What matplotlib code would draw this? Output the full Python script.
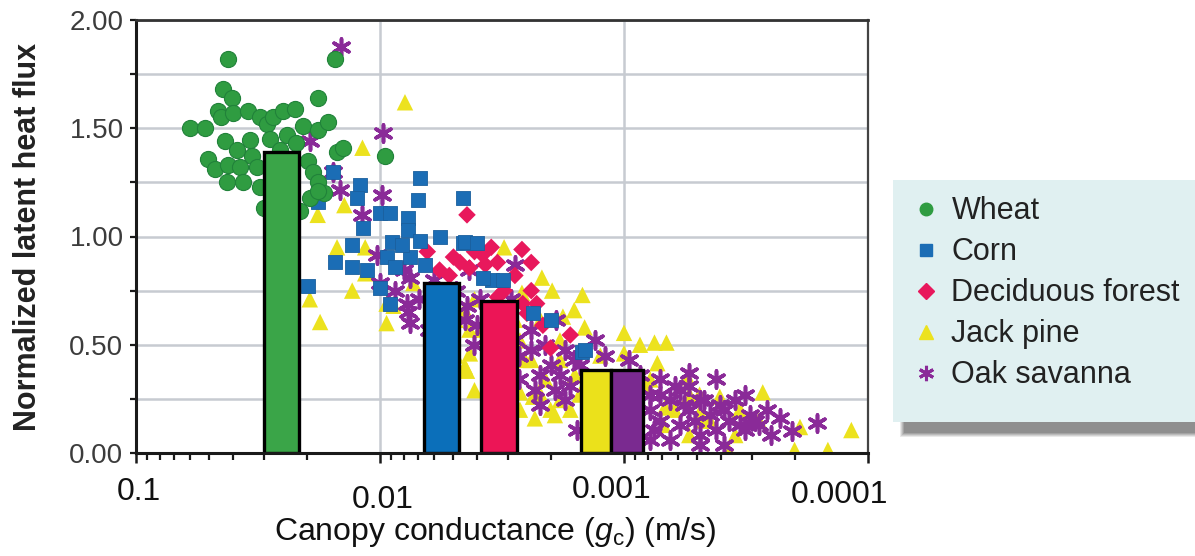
import matplotlib
matplotlib.use("Agg")
import matplotlib.pyplot as plt
import numpy as np
from matplotlib.patches import Rectangle
from matplotlib.ticker import FixedLocator, LogLocator, NullFormatter

# ---------------- data ----------------
series_names = ["Wheat", "Corn", "Deciduous forest", "Jack pine", "Oak savanna"]

wheat_gc = [0.042, 0.0153, 0.044, 0.0405, 0.018, 0.060, 0.052, 0.046, 0.045, 0.040,
            0.0348, 0.031, 0.029, 0.0275, 0.025, 0.0223, 0.0207, 0.018, 0.0163, 0.043,
            0.024, 0.022, 0.0507, 0.0475, 0.042, 0.0375, 0.0335, 0.032, 0.0423, 0.0364,
            0.031, 0.030, 0.0197, 0.0188, 0.018, 0.017, 0.0150, 0.0142, 0.00954, 0.0194,
            0.0213, 0.018, 0.0283, 0.0257, 0.0341, 0.0386]
wheat_le = [1.82, 1.82, 1.68, 1.64, 1.64, 1.50, 1.50, 1.58, 1.55, 1.57,
            1.58, 1.55, 1.52, 1.55, 1.58, 1.59, 1.51, 1.49, 1.53, 1.44,
            1.47, 1.43, 1.36, 1.31, 1.33, 1.32, 1.37, 1.32, 1.25, 1.25,
            1.23, 1.13, 1.35, 1.30, 1.25, 1.20, 1.39, 1.41, 1.37, 1.18,
            1.12, 1.21, 1.45, 1.40, 1.445, 1.40]

corn_gc = [0.0156, 0.0121, 0.0124, 0.00686, 0.0070, 0.00457, 0.018, 0.0100, 0.0091, 0.0117,
           0.0077, 0.0077, 0.0130, 0.0089, 0.00686, 0.00457, 0.0153, 0.0130, 0.0094, 0.0087,
           0.0075, 0.0197, 0.0100, 0.00568, 0.0113, 0.0045, 0.0040, 0.00348, 0.00313, 0.00148,
           0.0020, 0.00145, 0.00236, 0.00378, 0.0091, 0.00654, 0.0081]
corn_le = [1.30, 1.24, 1.18, 1.27, 1.17, 1.18, 1.16, 1.11, 1.11, 1.04,
           1.085, 1.03, 0.96, 0.975, 0.98, 0.97, 0.88, 0.86, 0.905, 0.86,
           0.905, 0.77, 0.76, 1.00, 0.845, 0.975, 0.97, 0.80, 0.80, 0.465,
           0.615, 0.475, 0.645, 0.81, 0.69, 0.87, 0.96]

decid_gc = [0.0044, 0.0064, 0.0050, 0.0047, 0.0041, 0.0038, 0.0035, 0.0033, 0.00262, 0.0024,
            0.0057, 0.0052, 0.0026, 0.00228, 0.0025, 0.00215, 0.00166, 0.0033, 0.0020, 0.0037,
            0.0031, 0.0024, 0.0028, 0.0043]
decid_le = [1.10, 0.93, 0.905, 0.88, 0.93, 0.915, 0.95, 0.88, 0.94, 0.88,
            0.845, 0.82, 0.69, 0.69, 0.645, 0.59, 0.545, 0.72, 0.485, 0.87,
            0.75, 0.75, 0.82, 0.855]

jack_gc = [0.0079, 0.0118, 0.0140, 0.018, 0.0150, 0.0115, 0.0115, 0.0130, 0.0194, 0.0176,
           0.0094, 0.0088, 0.0094, 0.0073, 0.0031, 0.00217, 0.00148, 0.00100, 0.00075, 0.00067,
           0.00055, 0.00073, 0.00197, 0.00262, 0.00178, 0.00145, 0.0010, 0.000405, 0.00027, 0.000117,
           0.00019, 0.00020, 0.000146, 0.00037, 0.00267, 0.0020, 0.00236, 0.00049, 0.00068, 0.00428,
           0.00449, 0.00267, 0.0039, 0.0032, 0.0022, 0.00183, 0.00183, 0.0041, 0.0049, 0.00152,
           0.00125, 0.00082, 0.00054, 0.000335, 0.000445, 0.0029, 0.0054, 0.0033, 0.0016, 0.00086,
           0.0057, 0.0031, 0.0024,
           0.0045, 0.0043, 0.0044, 0.0041, 0.00267, 0.00232, 0.00192, 0.00166, 0.0032, 0.0035,
           0.0021, 0.00255, 0.0029, 0.00159, 0.00125, 0.0028, 0.0022, 0.00183, 0.00078, 0.00062,
           0.00047, 0.00035, 0.00054, 0.00069, 0.00028, 0.00049, 0.0049]
jack_le = [1.62, 1.41, 1.145, 1.10, 0.95, 0.95, 0.83, 0.75, 0.71, 0.605,
           0.69, 0.68, 0.60, 0.785, 0.95, 0.81, 0.73, 0.555, 0.51, 0.51,
           0.35, 0.415, 0.75, 0.74, 0.63, 0.58, 0.46, 0.26, 0.28, 0.106,
           0.12, 0.014, 0.014, 0.005, 0.28, 0.20, 0.26, 0.185, 0.21, 0.46,
           0.40, 0.52, 0.57, 0.43, 0.27, 0.245, 0.43, 0.71, 0.615, 0.27,
           0.34, 0.31, 0.27, 0.20, 0.15, 0.34, 0.50, 0.61, 0.66, 0.50,
           0.625, 0.22, 0.43,
           0.66, 0.57, 0.38, 0.29, 0.20, 0.16, 0.175, 0.20, 0.27, 0.36,
           0.34, 0.43, 0.50, 0.36, 0.45, 0.615, 0.615, 0.52, 0.34, 0.20,
           0.15, 0.083, 0.083, 0.13, 0.15, 0.27, 0.45]

oak_gc = [0.0145, 0.0097, 0.0194, 0.0146, 0.0098, 0.0118, 0.0156, 0.0103, 0.0075, 0.0080,
          0.0100, 0.00775, 0.0077, 0.0075, 0.0087, 0.0069, 0.0060, 0.0049, 0.0043, 0.0039,
          0.0045, 0.00354, 0.0029, 0.0024, 0.0027, 0.0021, 0.00183, 0.0022, 0.0016, 0.00138,
          0.00175, 0.00125, 0.00156, 0.00086, 0.00078, 0.00071, 0.00065, 0.00059, 0.00054, 0.00049,
          0.000445, 0.000405, 0.00037, 0.000335, 0.000305, 0.00028, 0.00023, 0.000205, 0.000162, 0.00075,
          0.00065, 0.00049, 0.00104, 0.0022, 0.0027, 0.00095, 0.0012, 0.00054, 0.00042, 0.00032,
          0.00026, 0.00025, 0.00039, 0.00059, 0.0054, 0.0063, 0.0032, 0.0019, 0.0041, 0.00132,
          0.0028,
          0.0044, 0.0040, 0.0032, 0.0028, 0.0024, 0.0020, 0.00175, 0.00152, 0.0031, 0.00232,
          0.00192, 0.00166, 0.00078, 0.00071, 0.00062, 0.00057, 0.00051, 0.00047, 0.00042, 0.00039,
          0.00035, 0.00032, 0.00029, 0.00049, 0.00078, 0.00071, 0.00054]
oak_le = [1.875, 1.48, 1.44, 1.215, 1.19, 1.10, 1.30, 0.915, 0.81, 0.845,
          0.785, 0.69, 0.65, 0.60, 0.75, 0.71, 0.80, 0.75, 0.845, 0.71,
          0.615, 0.615, 0.71, 0.57, 0.45, 0.50, 0.36, 0.36, 0.43, 0.31,
          0.245, 0.22, 0.105, 0.36, 0.27, 0.34, 0.245, 0.29, 0.20, 0.245,
          0.175, 0.22, 0.15, 0.13, 0.175, 0.13, 0.16, 0.10, 0.14, 0.105,
          0.06, 0.083, 0.15, 0.22, 0.34, 0.43, 0.45, 0.37, 0.34, 0.27,
          0.20, 0.083, 0.037, 0.13, 0.66, 0.57, 0.52, 0.615, 0.50, 0.52,
          0.87,
          0.68, 0.59, 0.615, 0.52, 0.475, 0.405, 0.475, 0.405, 0.405, 0.29,
          0.29, 0.31, 0.20, 0.15, 0.31, 0.22, 0.15, 0.245, 0.105, 0.20,
          0.245, 0.105, 0.15, 0.037, 0.06, 0.27, 0.31]

# bars: representative conductance and mean normalized flux
bar_gc = [0.0253, 0.0056, 0.00325, 0.0013, 0.00097]
bar_le = [1.39, 0.785, 0.70, 0.383, 0.383]
bar_width_dec = [0.143, 0.143, 0.147, 0.123, 0.131]  # width in decades

xtick_vals = [0.1, 0.01, 0.001, 0.0001]
xtick_text = ["0.1", "0.01", "0.001", "0.0001"]

# ---------------- style ----------------
C_WHEAT = "#2f9c41"
C_CORN = "#1b6db5"
C_DECID = "#e8185c"
C_JACK = "#ece21e"
C_OAK = "#8a2a98"
BAR_COLORS = ["#3aa548", "#0b6fba", "#ec1556", "#ebe11b", "#7a2a90"]

plt.rcParams["font.family"] = ["Liberation Sans", "DejaVu Sans"]
plt.rcParams["mathtext.fontset"] = "custom"
plt.rcParams["mathtext.rm"] = "Liberation Sans"
plt.rcParams["mathtext.it"] = "Liberation Sans:italic"

W, H = 1195, 556
fig = plt.figure(figsize=(W / 100, H / 100), dpi=100)
fig.patch.set_facecolor("white")

L, R, T, B = 136, 868, 20, 453
ax = fig.add_axes([L / W, 1 - B / H, (R - L) / W, (B - T) / H])
ax.set_xscale("log")
ax.set_xlim(0.1, 0.0001)
ax.set_ylim(0, 2.0)

# grid
ax.set_yticks(np.arange(0, 2.01, 0.5))
ax.set_yticks(np.arange(0.25, 2.0, 0.5), minor=True)
ax.set_yticklabels(["%.2f" % v for v in np.arange(0, 2.01, 0.5)])
ax.xaxis.set_major_locator(FixedLocator(xtick_vals))
ax.xaxis.set_minor_locator(LogLocator(base=10, subs=np.arange(2, 10)))
ax.xaxis.set_minor_formatter(NullFormatter())
ax.grid(True, which="major", axis="x", color="#c7cbd1", lw=1.8, zorder=0)
ax.grid(True, which="both", axis="y", color="#c7cbd1", lw=1.8, zorder=0)
ax.set_axisbelow(True)

# scatter
ax.scatter(jack_gc, jack_le, marker="^", s=140, color=C_JACK, edgecolors="none", zorder=2)
ax.scatter(oak_gc, oak_le, marker=(6, 2, 0), s=150, color=C_OAK, linewidths=2.6, zorder=3)
ax.scatter(decid_gc, decid_le, marker="D", s=80, color=C_DECID, edgecolors="none", zorder=3)
ax.scatter(corn_gc, corn_le, marker="s", s=105, color=C_CORN, edgecolors="#1a5f9e", linewidths=0.6, zorder=3)
ax.scatter(wheat_gc, wheat_le, marker="o", s=135, color=C_WHEAT, edgecolors="#21823a", linewidths=0.8, zorder=3)

# bars
gc = np.array(bar_gc)
wd = np.array(bar_width_dec)
right_edge = gc * 10 ** (-wd / 2)
left_edge = gc * 10 ** (wd / 2)
ax.bar(right_edge, np.array(bar_le), width=left_edge - right_edge, align="edge",
       color=BAR_COLORS, edgecolor="black", linewidth=2.4, zorder=5)

# spines / ticks
for s in ["left", "bottom"]:
    ax.spines[s].set_color("#1a1a1a")
    ax.spines[s].set_linewidth(2.2)
ax.spines["top"].set_color("#333333")
ax.spines["top"].set_linewidth(2.0)
ax.spines["right"].set_color("#444444")
ax.spines["right"].set_linewidth(1.6)
ax.spines[["left", "bottom", "top", "right"]].set_zorder(6)

ax.tick_params(axis="y", which="both", direction="out", length=4, width=1.6,
               colors="#1a1a1a", labelsize=20, labelcolor="#3c3c3c", pad=5)
ax.tick_params(axis="x", which="major", direction="out", length=7, width=1.8,
               colors="#1a1a1a", labelbottom=False)
ax.tick_params(axis="x", which="minor", direction="out", length=5, width=1.6, colors="#1a1a1a")

# x tick labels (staggered as in the original)
label_offsets = [(3, -24), (3, -32), (-12, -22), (-28, -27)]
for v, t, (dx, dy) in zip(xtick_vals, xtick_text, label_offsets):
    ax.annotate(t, xy=(v, 0), xycoords=("data", "axes fraction"), xytext=(dx, dy),
                textcoords="offset pixels", ha="center", va="top", fontsize=23,
                color="#111111")

ax.set_xlabel(r"Canopy conductance ($g_\mathrm{c}$) (m/s)", fontsize=23, color="#111111")
ax.xaxis.set_label_coords((495 - L) / (R - L), (B - 515) / (B - T))
ax.set_ylabel("Normalized latent heat flux", fontsize=22, fontweight="bold", color="#222222")
ax.yaxis.set_label_coords((43 - L) / (R - L), 0.5)

# legend panel with soft shadow
for i, a in enumerate([0.10, 0.12, 0.14, 0.16, 0.18]):
    off = 5 - i
    fig.patches.append(Rectangle(((905 - off) / W, 1 - (432 + off) / H), (300 + 2 * off) / W,
                                 (40 + 2 * off) / H, transform=fig.transFigure,
                                 facecolor="#303030", alpha=a, edgecolor="none", zorder=1))
fig.patches.append(Rectangle((893 / W, 1 - 422 / H), 310 / W, 242 / H, transform=fig.transFigure,
                             facecolor="#e0f0f1", edgecolor="none", zorder=2))

handles = [
    plt.Line2D([], [], ls="none", marker="o", ms=9, color=C_WHEAT),
    plt.Line2D([], [], ls="none", marker="s", ms=8.5, color=C_CORN),
    plt.Line2D([], [], ls="none", marker="D", ms=8, color=C_DECID),
    plt.Line2D([], [], ls="none", marker="^", ms=10, color=C_JACK),
    plt.Line2D([], [], ls="none", marker=(6, 2, 0), ms=11, mew=2.2, color=C_OAK),
]
leg = fig.legend(handles, series_names, loc="upper left", bbox_to_anchor=(898 / W, 1 - 181 / H),
                 frameon=False, fontsize=22, handlelength=0.8, handletextpad=0.45,
                 labelspacing=0.36, borderpad=0, labelcolor="#222222")
leg.set_zorder(3)

fig.savefig("out.png", dpi=100)
